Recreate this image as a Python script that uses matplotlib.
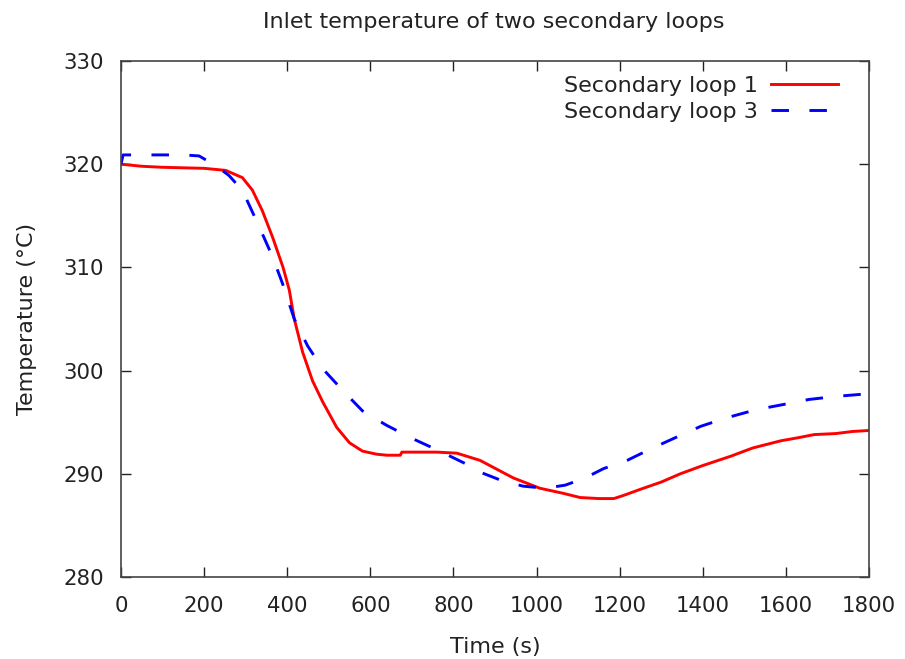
import matplotlib
matplotlib.use("Agg")
import matplotlib.pyplot as plt

# Secondary loop 1 inlet temperature (time in s, temperature in degC)
loop1_time = [0, 50, 100, 200, 252, 292, 316, 340, 365, 390, 405, 417, 437, 461, 485,
              519, 550, 581, 615, 640, 672, 676, 720, 760, 808, 864, 944, 1008, 1065,
              1105, 1150, 1186, 1209, 1250, 1300, 1346, 1400, 1467, 1520, 1588, 1630,
              1668, 1720, 1760, 1800]
loop1_temp = [320.0, 319.8, 319.7, 319.6, 319.4, 318.7, 317.5, 315.5, 312.9, 310.0,
              307.8, 305.0, 301.8, 299.0, 297.0, 294.5, 293.0, 292.2, 291.9, 291.8,
              291.8, 292.1, 292.1, 292.1, 292.0, 291.3, 289.6, 288.6, 288.1, 287.7,
              287.6, 287.6, 287.9, 288.5, 289.2, 290.0, 290.8, 291.7, 292.5, 293.2,
              293.5, 293.8, 293.9, 294.1, 294.2]

# Secondary loop 3 inlet temperature
loop3_time = [0, 5, 40, 100, 150, 188, 205, 230, 260, 280, 301, 333, 365, 389, 417,
              449, 485, 533, 581, 639, 702, 767, 828, 868, 919, 968, 1021, 1069, 1117,
              1161, 1218, 1274, 1334, 1395, 1455, 1527, 1592, 1655, 1720, 1781, 1800]
loop3_temp = [320.0, 320.9, 320.9, 320.9, 320.9, 320.8, 320.4, 319.8, 318.9, 318.0,
              316.7, 313.9, 311.0, 308.4, 305.0, 302.4, 300.2, 298.1, 296.1, 294.7,
              293.4, 292.2, 291.0, 290.1, 289.3, 288.8, 288.6, 288.9, 289.6, 290.5,
              291.3, 292.4, 293.5, 294.6, 295.4, 296.2, 296.7, 297.2, 297.5, 297.7,
              297.8]

x_ticks = [0, 200, 400, 600, 800, 1000, 1200, 1400, 1600, 1800]
y_ticks = [280, 290, 300, 310, 320, 330]

plt.rcParams['font.family'] = ['DejaVu Sans']
TXT = '#222222'

fig = plt.figure(figsize=(9.05, 6.59), dpi=100)
ax = fig.add_axes([121 / 905, 1 - 577 / 659, (869 - 121) / 905, (577 - 61) / 659])

ax.plot(loop1_time, loop1_temp, color='#ff0000', lw=2.1, label='Secondary loop 1')
ax.plot(loop3_time, loop3_temp, color='#0000ff', lw=2.1, dashes=(6, 7),
        label='Secondary loop 3')

ax.set_xlim(0, 1800)
ax.set_ylim(280, 330)
ax.set_xticks(x_ticks)
ax.set_yticks(y_ticks)
ax.tick_params(direction='in', length=7, width=1, top=True, right=True,
               labelsize=15.3, colors=TXT)
ax.tick_params(axis='x', pad=14)
ax.tick_params(axis='y', pad=12)
for s in ax.spines.values():
    s.set_color('#444444')
    s.set_linewidth(1.2)

ax.set_xlabel('Time (s)', fontsize=16, color=TXT, labelpad=15)
ax.set_ylabel('Temperature (°C)', fontsize=16, color=TXT, labelpad=19)
fig.text(494 / 905, 1 - 22 / 659, 'Inlet temperature of two secondary loops',
         ha='center', va='center', fontsize=16, color=TXT)

leg = ax.legend(loc='upper right', frameon=False, fontsize=16, markerfirst=False,
                handlelength=3.0, handletextpad=0.6, labelspacing=0.25,
                borderaxespad=0.6, borderpad=0.3,
                bbox_to_anchor=(1 - 11 / 748, 1 + 5 / 516))
for t in leg.get_texts():
    t.set_color(TXT)

fig.savefig('out.png', dpi=100)
